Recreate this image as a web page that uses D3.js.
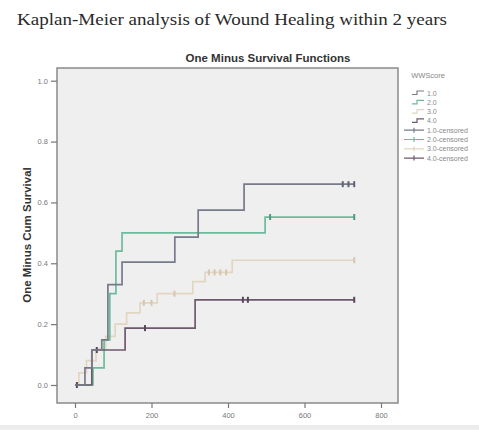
<!DOCTYPE html>
<html>
<head>
<meta charset="utf-8">
<script src="https://cdn.jsdelivr.net/npm/d3@7"></script>
<style>
  body { margin: 0; background: #fff; }
  svg { display: block; }
</style>
</head>
<body>
<div id="chart"></div>
<script>
// groups (WWScore) and their colours
const groups = ['1.0', '2.0', '3.0', '4.0'];
const colors = ['#777a8a', '#6cbb9c', '#e2d6c2', '#6e586e'];

// event times (days) and one-minus-survival after each step
const times1 = [0, 26, 44, 70, 86, 123, 261, 322, 442];
const values1 = [0, 0.056, 0.115, 0.148, 0.33, 0.404, 0.486, 0.575, 0.66];
const times2 = [0, 47, 76, 91, 107, 123, 497];
const values2 = [0, 0.056, 0.148, 0.30, 0.44, 0.50, 0.552];
const times3 = [0, 10, 30, 55, 80, 105, 135, 170, 215, 308, 340, 411];
const values3 = [0, 0.04, 0.08, 0.12, 0.16, 0.20, 0.237, 0.27, 0.30, 0.34, 0.37, 0.41];
const times4 = [0, 44, 131, 314];
const values4 = [0, 0.115, 0.187, 0.28];

// censored times per group
const censored1 = [700, 715, 730];
const censored2 = [510, 730];
const censored3 = [180, 200, 260, 350, 365, 380, 395, 730];
const censored4 = [5, 57, 183, 439, 452, 730];

const endTime = 730;
const xTicks = [0, 200, 400, 600, 800];
const yTicks = [0, 0.2, 0.4, 0.6, 0.8, 1.0];

const series = [
  { name: groups[0], times: times1, values: values1, cens: censored1 },
  { name: groups[1], times: times2, values: values2, cens: censored2 },
  { name: groups[2], times: times3, values: values3, cens: censored3 },
  { name: groups[3], times: times4, values: values4, cens: censored4 },
];

const width = 479, height = 430;
const svg = d3.select('#chart').append('svg')
  .attr('width', width).attr('height', height);

// scales
const x = d3.scaleLinear().domain([0, 800]).range([75, 381]);
const y = d3.scaleLinear().domain([0, 1]).range([385, 80.7]);

const frame = { left: 57, right: 398, top: 68, bottom: 403 };

// page title (from the paper)
svg.append('text')
  .attr('x', 17).attr('y', 25)
  .attr('font-family', 'Liberation Serif, Times New Roman, serif')
  .attr('font-size', 17)
  .attr('fill', '#2a2a2a')
  .attr('textLength', 430)
  .attr('lengthAdjust', 'spacingAndGlyphs')
  .text('Kaplan-Meier analysis of Wound Healing within 2 years');

// chart title
svg.append('text')
  .attr('x', 268).attr('y', 62)
  .attr('text-anchor', 'middle')
  .attr('font-family', 'Liberation Sans, Arial, sans-serif')
  .attr('font-weight', 'bold')
  .attr('font-size', 11.5)
  .attr('fill', '#333')
  .text('One Minus Survival Functions');

// plot background + frame
svg.append('rect')
  .attr('x', frame.left).attr('y', frame.top)
  .attr('width', frame.right - frame.left)
  .attr('height', frame.bottom - frame.top)
  .attr('fill', '#efefef')
  .attr('stroke', '#8a8a8a')
  .attr('stroke-width', 1.5);

// axes
const yAxis = svg.append('g')
  .attr('transform', `translate(${frame.left},0)`)
  .call(d3.axisLeft(y).tickValues(yTicks).tickFormat(d3.format('.1f')).tickSize(6));
const xAxis = svg.append('g')
  .attr('transform', `translate(0,${frame.bottom})`)
  .call(d3.axisBottom(x).tickValues(xTicks).tickFormat(d3.format('d')).tickSize(5));

[xAxis, yAxis].forEach(g => {
  g.select('.domain').remove();
  g.selectAll('line').attr('stroke', '#777').attr('stroke-width', 1.2);
  g.selectAll('text')
    .attr('fill', '#777')
    .attr('font-size', 7.5)
    .attr('font-family', 'Liberation Sans, Arial, sans-serif');
});
xAxis.selectAll('text').attr('dy', '0.9em');

// y axis title
svg.append('text')
  .attr('transform', 'translate(31,235) rotate(-90)')
  .attr('text-anchor', 'middle')
  .attr('font-family', 'Liberation Sans, Arial, sans-serif')
  .attr('font-weight', 'bold')
  .attr('font-size', 11.5)
  .attr('fill', '#333')
  .text('One Minus Cum Survival');

// step curves
const line = d3.line()
  .x(d => x(d[0]))
  .y(d => y(d[1]))
  .curve(d3.curveStepAfter);

function valueAt(s, t) {
  let v = s.values[0];
  s.times.forEach((tt, i) => { if (tt <= t) v = s.values[i]; });
  return v;
}

const plot = svg.append('g');
// draw light ones first so darker lines stay on top
[2, 1, 3, 0].forEach(i => {
  const s = series[i];
  const pts = s.times.map((t, j) => [t, s.values[j]]);
  pts.push([endTime, s.values[s.values.length - 1]]);
  plot.append('path')
    .datum(pts)
    .attr('fill', 'none')
    .attr('stroke', colors[i])
    .attr('stroke-width', 1.7)
    .attr('d', line);

  plot.selectAll(null)
    .data(s.cens)
    .join('line')
    .attr('x1', t => x(t)).attr('x2', t => x(t))
    .attr('y1', t => y(valueAt(s, t)) - 3)
    .attr('y2', t => y(valueAt(s, t)) + 3)
    .attr('stroke', i === 2 ? '#d5c6ad' : d3.color(colors[i]).darker(0.6))
    .attr('stroke-width', 2);
});

// legend
const legend = svg.append('g')
  .attr('font-family', 'Liberation Sans, Arial, sans-serif')
  .attr('font-size', 7)
  .attr('fill', '#888');

legend.append('text')
  .attr('x', 428).attr('y', 78)
  .attr('text-anchor', 'middle')
  .attr('font-size', 7.5)
  .text('WWScore');

const legendItems = groups.map((g, i) => ({ label: g, color: colors[i], kind: 'step' }))
  .concat(groups.map((g, i) => ({ label: g + '-censored', color: colors[i], kind: 'cens' })));

legendItems.forEach((d, i) => {
  const ly = 93 + i * 9.3;
  const row = legend.append('g');
  if (d.kind === 'step') {
    row.append('path')
      .attr('d', `M${412},${ly + 1.5}H${417}V${ly - 2}H${424}`)
      .attr('fill', 'none')
      .attr('stroke', d.color)
      .attr('stroke-width', 1.2);
  } else {
    row.append('path')
      .attr('d', `M${404},${ly}H${424}M${414},${ly - 2.5}V${ly + 2.5}`)
      .attr('fill', 'none')
      .attr('stroke', d.color)
      .attr('stroke-width', 1.2);
  }
  row.append('text')
    .attr('x', 427).attr('y', ly + 2.5)
    .text(d.label);
});

// faint rule at bottom of the figure
svg.append('rect')
  .attr('x', 0).attr('y', 425)
  .attr('width', width).attr('height', 5)
  .attr('fill', '#ececec');
</script>
</body>
</html>
